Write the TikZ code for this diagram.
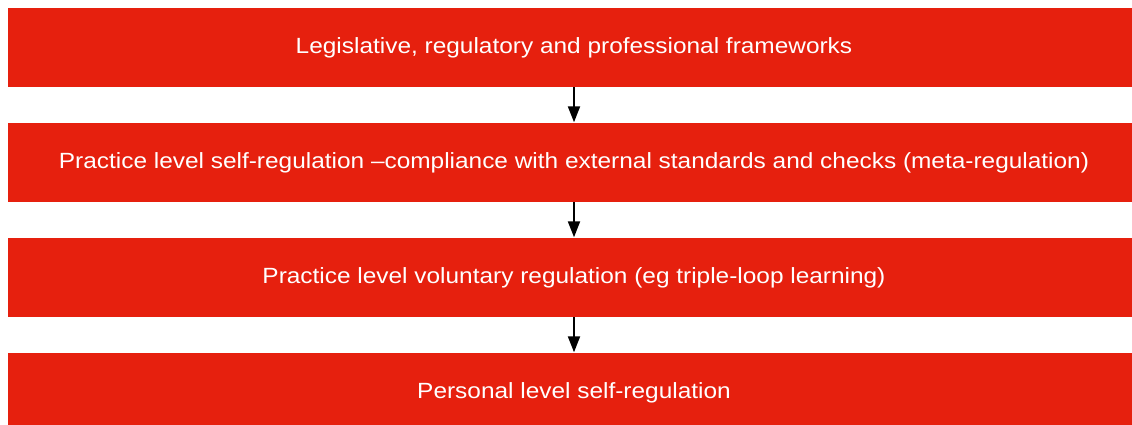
\documentclass[tikz,border=0pt]{standalone}
\usepackage{fontspec}
\setmainfont{Liberation Sans}[FakeStretch=1.11]
\usetikzlibrary{arrows.meta}
\definecolor{boxred}{RGB}{230,32,14}
\tikzset{
  level/.style={fill=boxred, draw=none, text=white, minimum width=1132pt, minimum height=79pt, inner sep=0pt, text height=15pt, text depth=2pt, font=\fontsize{22}{26}\selectfont, anchor=center},
  flow/.style={line width=2pt, -{Triangle[length=16pt,width=12pt]}, shorten >=0.5pt}
}
\begin{document}
\begin{tikzpicture}[x=1pt,y=1pt]
\useasboundingbox (0,0) rectangle (1132,425);
\clip (0,0) rectangle (1132,425);
\node[level] (a) at (574,377.5) {Legislative, regulatory and professional frameworks};
\node[level] (b) at (574,262.5) {Practice level self-regulation –compliance with external standards and checks (meta-regulation)};
\node[level] (c) at (574,147.5) {Practice level voluntary regulation (eg triple-loop learning)};
\node[level] (d) at (574,32.5) {Personal level self-regulation};
\draw[flow] (a.south) -- (b.north);
\draw[flow] (b.south) -- (c.north);
\draw[flow] (c.south) -- (d.north);
\end{tikzpicture}
\end{document}
